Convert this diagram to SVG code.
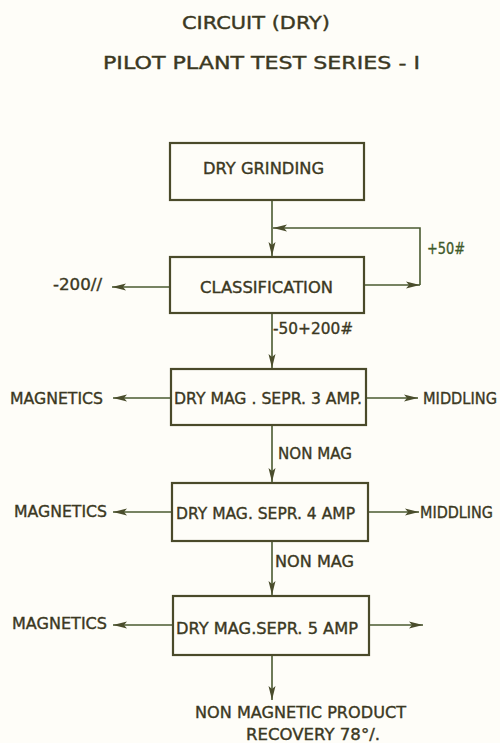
<svg xmlns="http://www.w3.org/2000/svg" width="500" height="743" viewBox="0 0 500 743">
<defs>
<marker id="ah" viewBox="0 0 14 8" refX="14" refY="4" markerWidth="14" markerHeight="8" markerUnits="userSpaceOnUse" orient="auto">
<path d="M0,0.5 L14,4 L0,7.5 L3,4 Z" fill="#4a4d2c"/>
</marker>
</defs>
<style>
.bx{fill:none;stroke:#4a4a2a;stroke-width:2.2}
.ln{fill:none;stroke:#4a5a30;stroke-width:1.6;marker-end:url(#ah)}
.t{font-family:"DejaVu Sans","Liberation Sans",sans-serif;fill:#3b3822;stroke:#3b3822;stroke-width:0.35;font-size:15px}
.tt{font-family:"DejaVu Sans","Liberation Sans",sans-serif;fill:#3b3822;stroke:#3b3822;stroke-width:0.4;font-size:18px}
</style>
<rect width="500" height="743" fill="#fefdf8"/>
<g id="title">
<text class="tt" x="182" y="29" textLength="148" lengthAdjust="spacingAndGlyphs">CIRCUIT (DRY)</text>
<text class="tt" x="103" y="69" textLength="317" lengthAdjust="spacingAndGlyphs">PILOT PLANT TEST  SERIES - I</text>
</g>
<g id="connectors">
<line class="ln" x1="272" y1="200" x2="272" y2="256"/>
<line class="ln" x1="364" y1="285" x2="420" y2="285"/>
<path class="ln" d="M420,285 V228 H273"/>
<line class="ln" x1="170" y1="287" x2="112" y2="287"/>
<line class="ln" x1="272" y1="313" x2="272" y2="368"/>
<line class="ln" x1="171" y1="398" x2="113" y2="398"/>
<line class="ln" x1="366" y1="398" x2="418" y2="398"/>
<line class="ln" x1="272" y1="425" x2="272" y2="482"/>
<line class="ln" x1="172" y1="512" x2="113" y2="512"/>
<line class="ln" x1="368" y1="512" x2="419" y2="512"/>
<line class="ln" x1="272" y1="541" x2="272" y2="595"/>
<line class="ln" x1="173" y1="625" x2="113" y2="625"/>
<line class="ln" x1="369" y1="625" x2="423" y2="625"/>
<line class="ln" x1="272" y1="655" x2="272" y2="700"/>
</g>
<g id="dry-grinding">
<rect class="bx" x="170" y="143" width="194" height="57"/>
<text class="t" x="203" y="174" textLength="121" lengthAdjust="spacingAndGlyphs">DRY GRINDING</text>
</g>
<g id="classification">
<rect class="bx" x="170" y="257" width="194" height="56"/>
<text class="t" x="200" y="293" textLength="133" lengthAdjust="spacingAndGlyphs">CLASSIFICATION</text>
</g>
<g id="labels-classification">
<text class="t" x="427" y="254" textLength="38" lengthAdjust="spacingAndGlyphs" style="fill:#3f5a2a;stroke:#3f5a2a">+50#</text>
<text class="t" x="53" y="290" textLength="49" lengthAdjust="spacingAndGlyphs">-200//</text>
<text class="t" x="273" y="334" textLength="80" lengthAdjust="spacingAndGlyphs">-50+200#</text>
</g>
<g id="sepr-3">
<rect class="bx" x="171" y="369" width="195" height="56"/>
<text class="t" x="174" y="404" textLength="188" lengthAdjust="spacingAndGlyphs">DRY MAG . SEPR.  3 AMP.</text>
<text class="t" x="10" y="404" textLength="93" lengthAdjust="spacingAndGlyphs">MAGNETICS</text>
<text class="t" x="423" y="404" textLength="74" lengthAdjust="spacingAndGlyphs">MIDDLING</text>
<text class="t" x="278" y="459" textLength="74" lengthAdjust="spacingAndGlyphs">NON MAG</text>
</g>
<g id="sepr-4">
<rect class="bx" x="172" y="483" width="196" height="58"/>
<text class="t" x="176" y="519" textLength="179" lengthAdjust="spacingAndGlyphs">DRY MAG. SEPR. 4 AMP</text>
<text class="t" x="14" y="517" textLength="93" lengthAdjust="spacingAndGlyphs">MAGNETICS</text>
<text class="t" x="420" y="518" textLength="73" lengthAdjust="spacingAndGlyphs">MIDDLING</text>
<text class="t" x="275" y="567" textLength="79" lengthAdjust="spacingAndGlyphs">NON  MAG</text>
</g>
<g id="sepr-5">
<rect class="bx" x="173" y="596" width="196" height="59"/>
<text class="t" x="176" y="634" textLength="182" lengthAdjust="spacingAndGlyphs">DRY MAG.SEPR. 5 AMP</text>
<text class="t" x="12" y="629" textLength="95" lengthAdjust="spacingAndGlyphs">MAGNETICS</text>
</g>
<g id="product">
<text class="t" x="195" y="718" textLength="211" lengthAdjust="spacingAndGlyphs">NON MAGNETIC PRODUCT</text>
<text class="t" x="246" y="740" textLength="134" lengthAdjust="spacingAndGlyphs">RECOVERY 78°/.</text>
</g>
</svg>
